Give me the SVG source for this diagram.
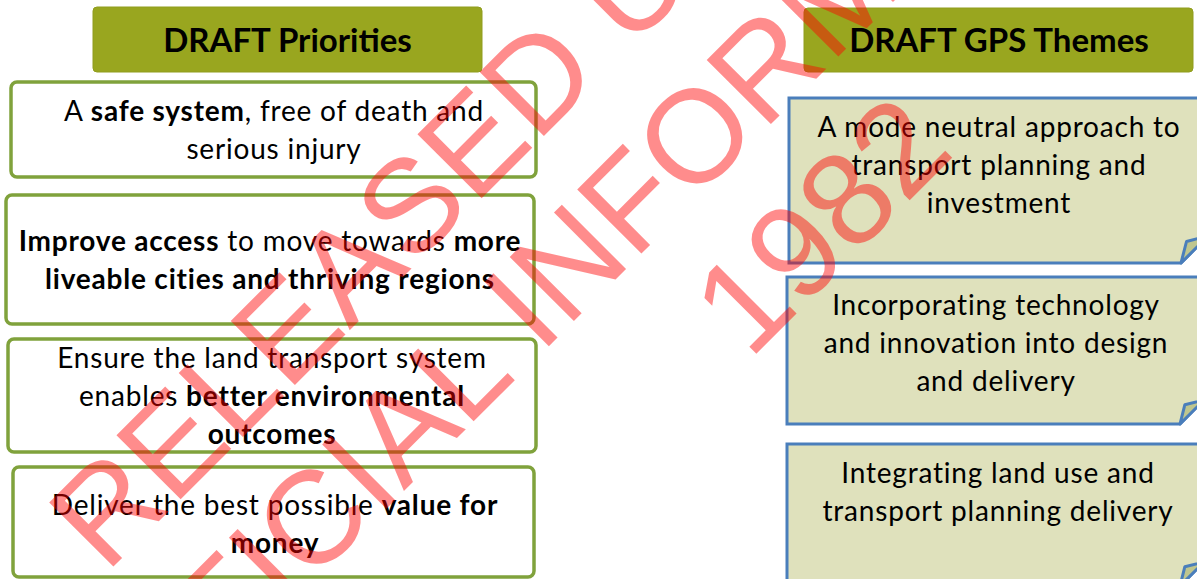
<svg xmlns="http://www.w3.org/2000/svg" width="1197" height="579" viewBox="0 0 1197 579">
<style>
.hdr{fill:#99A61F;stroke:#909D1E;stroke-width:1}
.hdrt{font-family:Lato,"Liberation Sans",sans-serif;font-weight:700;font-size:33px;fill:#000;text-anchor:middle}
.pri{fill:#FFFFFF;stroke:#80A23C;stroke-width:3.5}
.gps{fill:#DFE1BC;stroke:#4A7EBB;stroke-width:3}
.fold{fill:#BFC68E;stroke:#4A7EBB;stroke-width:3;stroke-linejoin:round}
.t{font-family:Lato,"Liberation Sans",sans-serif;font-size:28px;letter-spacing:0.8px;fill:#000;text-anchor:middle}
.b{font-weight:700}
.wm{font-family:"Liberation Sans",Arial,sans-serif;font-size:132px;fill:#FF0000;fill-opacity:0.45;text-anchor:middle}
</style>
<rect width="1197" height="579" fill="#FFFFFF"/>

<g id="hdr-priorities">
<rect class="hdr" x="93" y="7" width="389" height="65" rx="4"/>
<text class="hdrt" x="287.5" y="52">DRAFT Priorities</text>
</g>
<g id="hdr-gps">
<rect class="hdr" x="804" y="8" width="389" height="64" rx="4"/>
<text class="hdrt" x="999" y="52">DRAFT GPS Themes</text>
</g>

<g id="pri-safe">
<rect class="pri" x="11" y="82" width="525" height="95" rx="6"/>
<text class="t" x="274" y="121">A <tspan class="b">safe system</tspan>, free of death and</text>
<text class="t" x="274" y="159">serious injury</text>
</g>
<g id="pri-access">
<rect class="pri" x="6" y="195" width="528" height="129" rx="6"/>
<text class="t" x="270" y="251"><tspan class="b">Improve access</tspan> to move towards <tspan class="b">more</tspan></text>
<text class="t b" x="270" y="289">liveable cities and thriving regions</text>
</g>
<g id="pri-env">
<rect class="pri" x="8" y="339" width="528" height="113" rx="6"/>
<text class="t" x="272" y="368">Ensure the land transport system</text>
<text class="t" x="272" y="406">enables <tspan class="b">better environmental</tspan></text>
<text class="t b" x="272" y="444">outcomes</text>
</g>
<g id="pri-value">
<rect class="pri" x="13" y="467" width="521" height="110" rx="6"/>
<text class="t" x="275" y="515">Deliver the best possible <tspan class="b">value for</tspan></text>
<text class="t b" x="275" y="553">money</text>
</g>

<g id="gps-mode">
<path class="gps" d="M789,98 H1208 V236 L1181,263 H789 Z"/>
<path class="fold" d="M1181,263 L1186.5,241.5 L1208,236 Z"/>
<text class="t" x="999" y="137">A mode neutral approach to</text>
<text class="t" x="999" y="175">transport planning and</text>
<text class="t" x="999" y="213">investment</text>
</g>
<g id="gps-tech">
<path class="gps" d="M787,277 H1204 V400 L1180,424 H787 Z"/>
<path class="fold" d="M1180,424 L1184.8,404.8 L1204,400 Z"/>
<text class="t" x="996" y="315">Incorporating technology</text>
<text class="t" x="996" y="353">and innovation into design</text>
<text class="t" x="996" y="391">and delivery</text>
</g>
<g id="gps-landuse">
<path class="gps" d="M787,444 H1204 V562 L1180,586 H787 Z"/>
<path class="fold" d="M1180,586 L1184.8,566.8 L1204,562 Z"/>
<text class="t" x="998" y="483">Integrating land use and</text>
<text class="t" x="998" y="521">transport planning delivery</text>
</g>

<g id="watermark">
<text class="wm" transform="translate(639,41) rotate(-45)">RELEASED UNDER THE</text>
<text class="wm" transform="translate(746,149) rotate(-45)">OFFICIAL INFORMATION ACT</text>
<text class="wm" transform="translate(853,257) rotate(-45)">1982</text>
</g>
</svg>
